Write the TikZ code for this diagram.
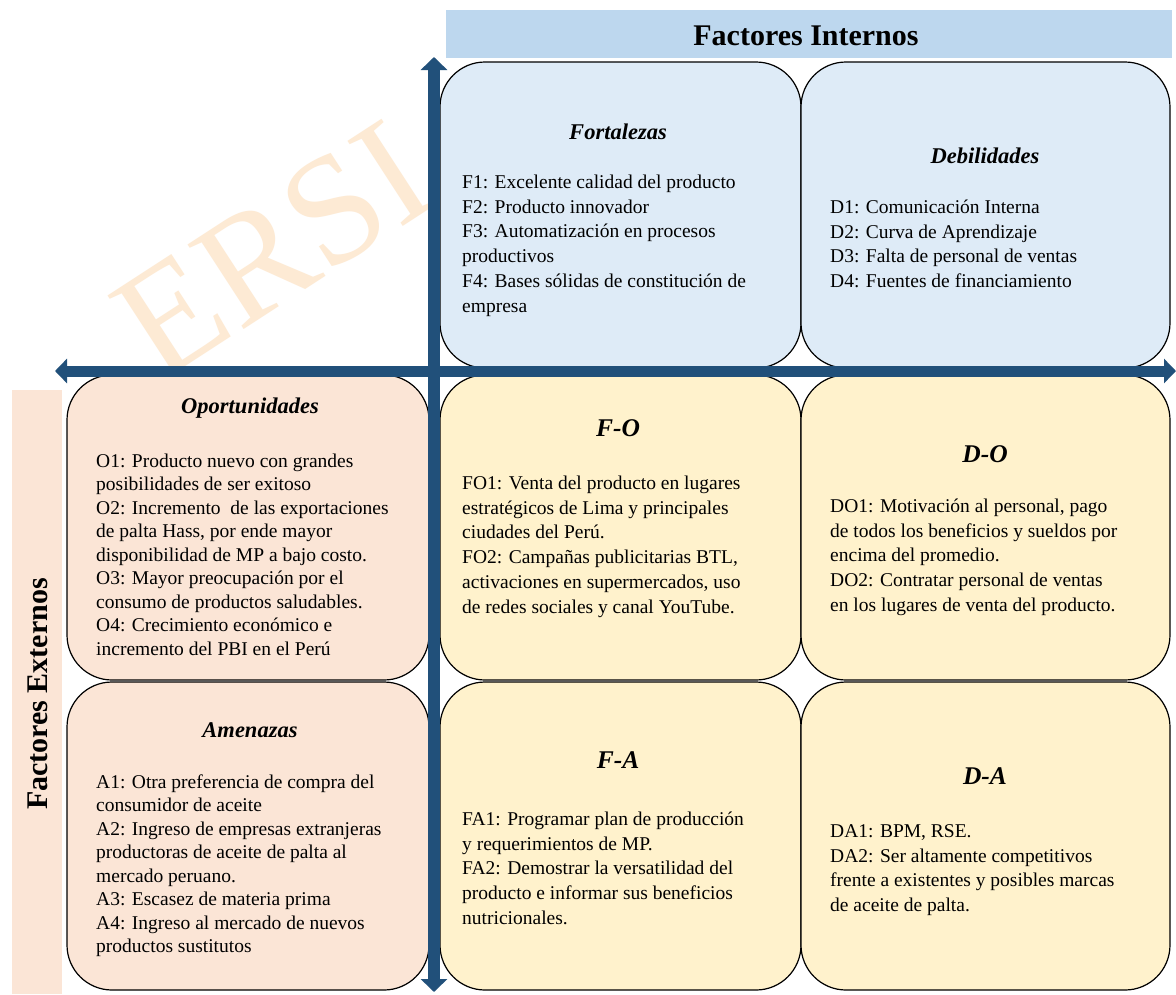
\documentclass[tikz,border=0pt]{standalone}
\usepackage{fontspec}
\setmainfont{Liberation Serif}
\usetikzlibrary{arrows.meta}
\definecolor{hdrblue}{RGB}{189,215,238}
\definecolor{boxblue}{RGB}{222,235,247}
\definecolor{peach}{RGB}{251,229,214}
\definecolor{cream}{RGB}{255,242,204}
\definecolor{axisblue}{RGB}{33,80,122}
\definecolor{wmark}{RGB}{253,234,212}
\newcommand{\fstrut}{\rule{0pt}{15pt}}
\begin{document}
\begin{tikzpicture}[x=1pt,y=-1pt,
  quad/.style={draw=black,line width=1.2pt,rounded corners=45pt,inner sep=0pt},
  body/.style={anchor=north west,align=left,inner sep=0pt,font=\fontsize{19.5}{24.8}\selectfont},
  bodyl/.style={anchor=north west,align=left,inner sep=0pt,font=\fontsize{19.5}{23.5}\selectfont},
  ttl/.style={anchor=base,inner sep=0pt,font=\fontsize{22.5}{27}\selectfont\bfseries\itshape},
  bigttl/.style={anchor=base,inner sep=0pt,font=\fontsize{25.5}{30}\selectfont\bfseries\itshape},
  axisline/.style={axisblue,line width=#1},
  hdr/.style={inner sep=0pt,font=\fontsize{30}{36}\selectfont\bfseries},
  wm/.style={rotate=33,text=wmark,inner sep=0pt,font=\fontsize{155}{155}\selectfont}
]
\useasboundingbox (0,0) rectangle (1176,994);
\fill[white] (0,0) rectangle (1176,994);
% watermark
\node[wm] (wmk) at (273,250) {ERSI};
% header bars
\fill[hdrblue] (446,10) rectangle (1172,58);
\node[hdr,anchor=base] (hi) at (806,45) {Factores Internos};
\fill[peach] (12,390) rectangle (62,994);
\node[hdr,anchor=base,rotate=90] (he) at (47,694) {Factores Externos};
% boxes
\node[quad,fill=boxblue,minimum width=361pt,minimum height=306pt] (F) at (620.5,215) {};
\node[quad,fill=boxblue,minimum width=369pt,minimum height=306pt] (D) at (985.5,215) {};
\node[quad,fill=peach,minimum width=362pt,minimum height=305pt] (O) at (248,527.5) {};
\node[quad,fill=peach,minimum width=362pt,minimum height=308pt] (A) at (248,836) {};
\node[quad,fill=cream,minimum width=361pt,minimum height=305pt] (FO) at (620.5,527.5) {};
\node[quad,fill=cream,minimum width=369pt,minimum height=305pt] (DO) at (985.5,527.5) {};
\node[quad,fill=cream,minimum width=361pt,minimum height=308pt] (FA) at (620.5,836) {};
\node[quad,fill=cream,minimum width=369pt,minimum height=308pt] (DA) at (985.5,836) {};
% titles
\node[ttl] (tF) at (618,139) {Fortalezas};
\node[ttl] (tD) at (985,163) {Debilidades};
\node[ttl] (tO) at (250,413) {Oportunidades};
\node[ttl] (tA) at (250,737) {Amenazas};
\node[bigttl] (tFO) at (618,436) {F-O};
\node[bigttl] (tDO) at (985,462) {D-O};
\node[bigttl] (tFA) at (618,768) {F-A};
\node[bigttl] (tDA) at (985,784) {D-A};
% bodies
\node[body] (bF) at (462,173) {\fstrut F1: Excelente calidad del producto\\F2: Producto innovador\\F3: Automatización en procesos\\productivos\\F4: Bases sólidas de constitución de\\empresa};
\node[body] (bD) at (830,198) {\fstrut D1: Comunicación Interna\\D2: Curva de Aprendizaje\\D3: Falta de personal de ventas\\D4: Fuentes de financiamiento};
\node[bodyl] (bO) at (96,452) {\fstrut O1: Producto nuevo con grandes\\posibilidades de ser exitoso\\O2: Incremento\ \ de las exportaciones\\de palta Hass, por ende mayor\\disponibilidad de MP a bajo costo.\\O3: Mayor preocupación por el\\consumo de productos saludables.\\O4: Crecimiento económico e\\incremento del PBI en el Perú};
\node[bodyl] (bA) at (96,773) {\fstrut A1: Otra preferencia de compra del\\consumidor de aceite\\A2: Ingreso de empresas extranjeras\\productoras de aceite de palta al\\mercado peruano.\\A3: Escasez de materia prima\\A4: Ingreso al mercado de nuevos\\productos sustitutos};
\node[body] (bFO) at (462,474) {\fstrut FO1: Venta del producto en lugares\\estratégicos de Lima y principales\\ciudades del Perú.\\FO2: Campañas publicitarias BTL,\\activaciones en supermercados, uso\\de redes sociales y canal YouTube.};
\node[body] (bDO) at (830,497) {\fstrut DO1: Motivación al personal, pago\\de todos los beneficios y sueldos por\\encima del promedio.\\DO2: Contratar personal de ventas\\en los lugares de venta del producto.};
\node[body] (bFA) at (462,810) {\fstrut FA1: Programar plan de producción\\y requerimientos de MP.\\FA2: Demostrar la versatilidad del\\producto e informar sus beneficios\\nutricionales.};
\node[body] (bDA) at (830,822) {\fstrut DA1: BPM, RSE.\\DA2: Ser altamente competitivos\\frente a existentes y posibles marcas\\de aceite de palta.};
% axes
\coordinate (vtop) at (434,57);
\coordinate (vbot) at (434,992);
\coordinate (hl) at (55,371);
\coordinate (hr) at (1176,371);
\draw[axisline=11pt,{Triangle[width=24pt,length=12pt]}-{Triangle[width=24pt,length=12pt]}] (hl) -- (hr);
\draw[axisline=12pt,{Triangle[width=26pt,length=13pt]}-{Triangle[width=26pt,length=13pt]}] (vbot) -- (vtop);
\end{tikzpicture}
\end{document}
